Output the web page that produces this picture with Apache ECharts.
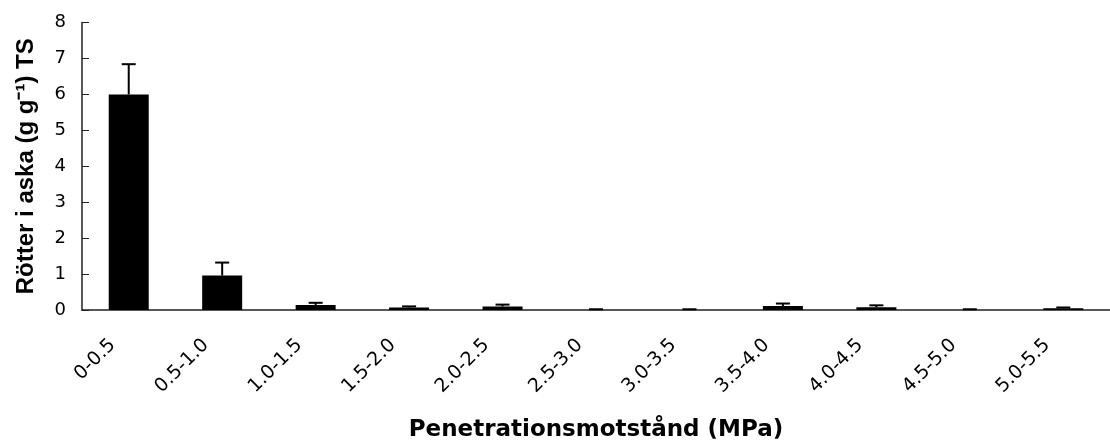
<!DOCTYPE html>
<html>
<head>
<meta charset="utf-8">
<script src="https://cdn.jsdelivr.net/npm/echarts@6/dist/echarts.min.js"></script>
<style>
html,body{margin:0;padding:0;background:#fff;}
#chart{width:1110px;height:447px;}
</style>
</head>
<body>
<div id="chart"></div>
<script>
const categories = ['0-0.5','0.5-1.0','1.0-1.5','1.5-2.0','2.0-2.5','2.5-3.0','3.0-3.5','3.5-4.0','4.0-4.5','4.5-5.0','5.0-5.5'];
const means = [6.0, 0.96, 0.14, 0.07, 0.10, 0, 0, 0.11, 0.08, 0, 0.05];
const errors = [0.84, 0.36, 0.06, 0.03, 0.05, 0.02, 0.02, 0.07, 0.05, 0.02, 0.02];
const yTicks = [0, 1, 2, 3, 4, 5, 6, 7, 8];

const tickFont = '"DejaVu Sans", "Liberation Sans", Arial, sans-serif';
const nameFont = '"Liberation Sans", Arial, sans-serif';
const chart = echarts.init(document.getElementById('chart'), null, {renderer: 'canvas'});

const errData = means.map((m, i) => [i, m, m + errors[i]]);

chart.setOption({
  animation: false,
  backgroundColor: '#ffffff',
  grid: {left: 82, right: -9, top: 22.5, bottom: 133.5, containLabel: false},
  xAxis: {
    type: 'category',
    data: categories,
    axisLine: {lineStyle: {color: '#222', width: 1.5}},
    axisTick: {show: false},
    axisLabel: {
      rotate: 45, interval: 0, margin: 16, padding: [0, 23, 0, 0],
      fontFamily: tickFont, fontSize: 19, color: '#000'
    },
    name: 'Penetrationsmotstånd (MPa)',
    nameLocation: 'middle',
    nameGap: 109,
    nameTextStyle: {fontFamily: tickFont, fontSize: 23, fontWeight: 'bold', color: '#000'}
  },
  yAxis: {
    type: 'value',
    min: yTicks[0], max: yTicks[yTicks.length - 1], interval: 1,
    axisLine: {show: true, lineStyle: {color: '#222', width: 1.5}},
    axisTick: {show: true, inside: true, length: 7, lineStyle: {color: '#222', width: 1}},
    splitLine: {show: false},
    axisLabel: {margin: 16, fontFamily: tickFont, fontSize: 18, color: '#000'},
    name: 'Rötter i aska (g g⁻¹) TS',
    nameLocation: 'middle',
    nameGap: 44,
    nameRotate: 90,
    nameTextStyle: {fontFamily: nameFont, fontSize: 24, fontWeight: 'bold', color: '#000'}
  },
  series: [
    {
      type: 'bar',
      data: means,
      barWidth: 40,
      itemStyle: {color: '#000'},
      z: 2
    },
    {
      type: 'custom',
      data: errData,
      z: 3,
      renderItem: function (params, api) {
        const i = api.value(0);
        const base = api.coord([i, api.value(1)]);
        const top = api.coord([i, api.value(2)]);
        const hw = 7;
        const style = {stroke: '#000', lineWidth: 2};
        return {
          type: 'group',
          children: [
            {type: 'line', shape: {x1: base[0], y1: base[1], x2: top[0], y2: top[1]}, style: style},
            {type: 'line', shape: {x1: top[0] - hw, y1: top[1], x2: top[0] + hw, y2: top[1]}, style: style}
          ]
        };
      }
    }
  ]
});
</script>
</body>
</html>
